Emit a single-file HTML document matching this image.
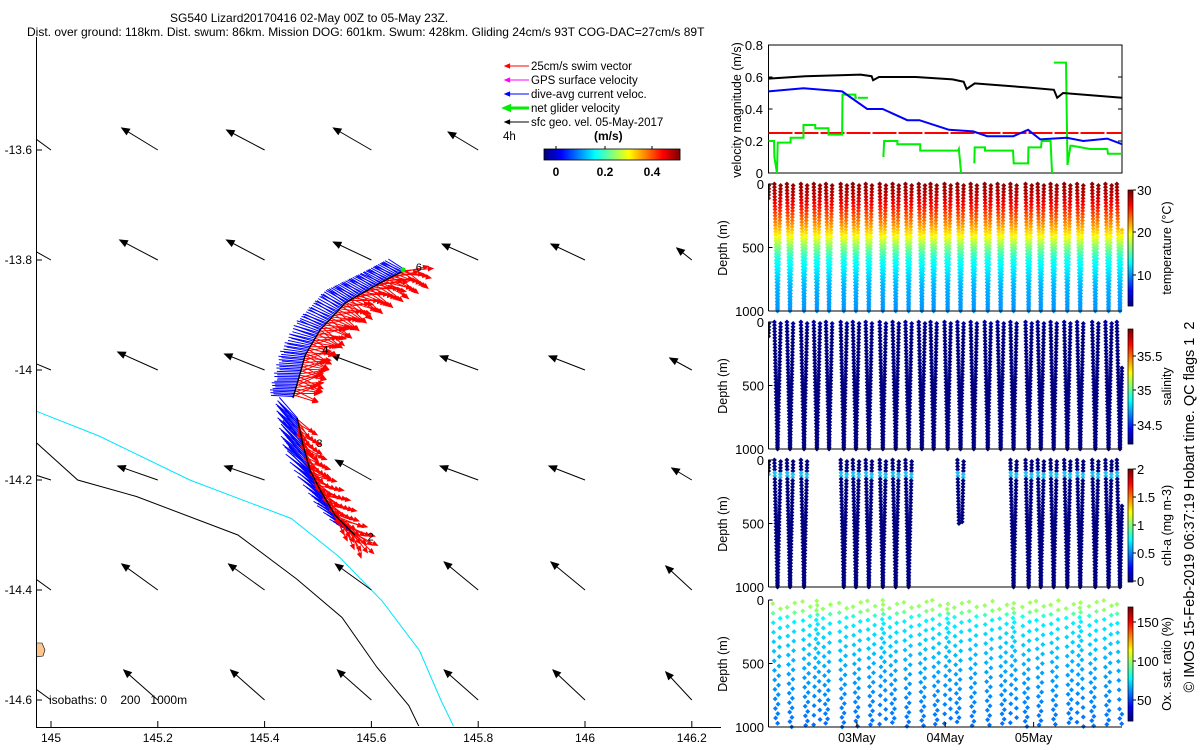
<!DOCTYPE html>
<html><head><meta charset="utf-8"><style>
html,body{margin:0;padding:0;background:#fff;}
svg{display:block;font-family:"Liberation Sans",sans-serif;}
text{white-space:pre;}
</style></head><body>
<svg id="c" width="1200" height="750" viewBox="0 0 1200 750">
<text x="170" y="22" font-size="12">SG540 Lizard20170416 02-May 00Z to 05-May 23Z.</text>
<text x="27" y="36" font-size="12">Dist. over ground: 118km. Dist. swum: 86km. Mission DOG: 601km. Swum: 428km. Gliding 24cm/s 93T COG-DAC=27cm/s 89T</text>
<g id="map"></g>
<g id="right"></g>
<text transform="translate(1194,507) rotate(-90)" font-size="14.5" text-anchor="middle">© IMOS 15-Feb-2019 06:37:19 Hobart time. QC flags 1  2</text>
</svg>
<script>
// ---------- DATA ----------
const lonTicks=[145,145.2,145.4,145.6,145.8,146,146.2];
const latTicks=[-13.6,-13.8,-14,-14.2,-14.4,-14.6];
const geoLon=[145,145.2,145.4,145.6,145.8,146,146.2];
const geoLat=[-13.6,-13.8,-14,-14.2,-14.4,-14.6];
const geoU=[[-0.3,-0.36,-0.38,-0.38,-0.3,-0.3,-0.18],[-0.36,-0.38,-0.38,-0.38,-0.36,-0.34,-0.15],[-0.38,-0.4,-0.4,-0.4,-0.38,-0.36,-0.22],[-0.38,-0.4,-0.4,-0.36,-0.38,-0.36,-0.2],[-0.36,-0.36,-0.36,-0.36,-0.34,-0.34,-0.26],[-0.36,-0.34,-0.34,-0.34,-0.34,-0.32,-0.26]];
const geoV=[[0.22,0.22,0.2,0.22,0.18,0.2,0.2],[0.2,0.2,0.2,0.18,0.16,0.16,0.12],[0.16,0.18,0.16,0.15,0.14,0.14,0.12],[0.12,0.14,0.14,0.2,0.14,0.14,0.12],[0.26,0.26,0.26,0.26,0.28,0.28,0.24],[0.26,0.3,0.3,0.3,0.3,0.3,0.28]];
const trackLon=[145.663,145.616,145.551,145.504,145.476,145.463,145.453,145.461,145.472,145.485,145.504,145.532,145.569];
const trackLat=[-13.818,-13.842,-13.878,-13.927,-13.973,-14.018,-14.051,-14.087,-14.136,-14.182,-14.218,-14.264,-14.300];
const dacU=[-0.3,-0.3,-0.32,-0.36,-0.38,-0.38,-0.36,-0.32,-0.36,-0.38,-0.36,-0.3,-0.28];
const dacV=[0.16,0.16,0.2,0.14,0.04,0.0,0.02,0.3,0.36,0.34,0.3,0.22,0.16];
const swimU=[0.26,0.26,0.25,0.25,0.24,0.24,0.22,0.1,0.14,0.16,0.2,0.2,0.18];
const swimV=[-0.06,-0.06,-0.08,-0.06,-0.02,0.0,0.0,-0.16,-0.16,-0.14,-0.14,-0.16,-0.18];
const breakAfter=6;
const wpLabels=[["6",145.683,-13.82],["4",145.508,-13.97],["3",145.497,-14.14],["2",145.593,-14.31]];
const iso200Lon=[144.97,145.09,145.26,145.45,145.54,145.62,145.69,145.73,145.755];
const iso200Lat=[-14.074,-14.12,-14.2,-14.27,-14.34,-14.42,-14.51,-14.6,-14.65];
const iso1000Lon=[144.97,145.05,145.16,145.35,145.46,145.545,145.61,145.67,145.69];
const iso1000Lat=[-14.13,-14.2,-14.23,-14.3,-14.38,-14.45,-14.54,-14.61,-14.65];
// velocity panel (hours since 02-May 00Z)
const blackH=[0,10,25,28,28.4,30,40,50,53,53.8,56,70,77.5,78.4,80,96];
const blackV=[0.59,0.605,0.615,0.605,0.58,0.6,0.6,0.585,0.57,0.525,0.56,0.535,0.52,0.47,0.5,0.47];
const blueH=[0,9.5,20,26.8,31,37.7,41,49,55.6,59.4,66.5,70.5,73.8,81,85.5,92,96];
const blueV=[0.51,0.53,0.51,0.4,0.4,0.33,0.33,0.27,0.26,0.23,0.23,0.27,0.21,0.22,0.2,0.215,0.18];
const swimSpeed=0.25;
const greenSegs=[
 {h:[0,1.5,1.6,2.3,2.5,6,6,9.5,9.5,12.7,12.7,16.3,16.3,20,20.1,23.6,23.6,24],v:[0.2,0.2,0.1,0,0.19,0.19,0.22,0.22,0.3,0.3,0.28,0.28,0.24,0.24,0.49,0.49,0.47,0.47]},
 {h:[24.3,27],v:[0.47,0.47]},
 {h:[31.2,31.4,35,35,41.2,41.2,51.5,51.7,52.3],v:[0.1,0.2,0.2,0.18,0.18,0.14,0.14,0.15,0]},
 {h:[55.9,56,58.8,58.8,66.4,66.6,70.5,70.6,74,74.2,76.5,76.6,77],v:[0.06,0.16,0.16,0.14,0.14,0.06,0.06,0.16,0.16,0.2,0.2,0.2,0]},
 {h:[77.5,80.8,81,81.2,82,82.5,87.3,87.3,92,92.2,96],v:[0.69,0.69,0.36,0.05,0.17,0.17,0.15,0.15,0.15,0.12,0.12]}
];
const velTicks=[0,0.2,0.4,0.6,0.8];
const diveH=[-1.6,1.6,5.0,8.8,12.3,15.6,19.6,22.9,26.4,30.2,33.7,37.2,40.8,44.0,47.8,51.3,54.9,58.7,62.2,65.7,69.8,73.1,76.6,80.3,83.8,87.9,91.5,94.6];
const chlPresent=[1,1,1,1,0,0,1,1,1,1,1,1,0,0,0,0.5,0,0,0,1,1,1,1,1,1,1,1,1];
const profDepth=[0,100,200,300,400,500,600,800,1000];
const profTemp=[29.5,28,25.5,23,20,16,13,10.5,9.5];
const oxDepth=[0,80,150,300,600,1000];
const oxVal=[100,98,75,70,62,55];
const dayTicks=[24,48,72];
const dayLabels=["03May","04May","05May"];

// ---------- HELPERS ----------
const NS="http://www.w3.org/2000/svg";
function mk(tag,attrs,parent){const e=document.createElementNS(NS,tag);for(const k in attrs)e.setAttribute(k,attrs[k]);parent.appendChild(e);return e;}
function jet(t){t=Math.max(0,Math.min(1,t));const r=Math.max(0,Math.min(1,1.5-Math.abs(4*t-3))),g=Math.max(0,Math.min(1,1.5-Math.abs(4*t-2))),b=Math.max(0,Math.min(1,1.5-Math.abs(4*t-1)));return `rgb(${Math.round(r*255)},${Math.round(g*255)},${Math.round(b*255)})`;}
function interp(xs,ys,x){if(x<=xs[0])return ys[0];for(let i=1;i<xs.length;i++){if(x<=xs[i]){const f=(x-xs[i-1])/(xs[i]-xs[i-1]);return ys[i-1]+f*(ys[i]-ys[i-1]);}}return ys[ys.length-1];}
const map=document.getElementById('map'),right=document.getElementById('right');
const mx=lon=>51+(lon-145)*534, my=lat=>150+(-13.6-lat)*550;

// ---------- MAP ----------
const defs=mk('defs',{},map);
const cp=mk('clipPath',{id:'mapclip'},defs);mk('rect',{x:37,y:37,width:690,height:689},cp);
const mg=mk('g',{'clip-path':'url(#mapclip)'},map);
function poly(xs,ys,col,name){const p=mk('polyline',{points:xs.map((v,i)=>mx(v)+','+my(ys[i])).join(' '),fill:'none',stroke:col,'stroke-width':1},mg);

}
poly(iso200Lon,iso200Lat,'#00e5ff','isobath-200m');
poly(iso1000Lon,iso1000Lat,'#000','isobath-1000m');
const isl=mk('path',{d:'M36,643 L42,643 L45,650 L43,656 L36,657 Z',fill:'#ffc58f',stroke:'#000','stroke-width':0.6},mg);


function arrow(g,x1,y1,x2,y2,col,w,hs){mk('line',{x1,y1,x2,y2,stroke:col,'stroke-width':w},g);const a=Math.atan2(y2-y1,x2-x1);
mk('path',{d:`M${x2},${y2} L${x2-hs*Math.cos(a-0.4)},${y2-hs*Math.sin(a-0.4)} L${x2-hs*Math.cos(a+0.4)},${y2-hs*Math.sin(a+0.4)} Z`,fill:col,stroke:col,'stroke-width':w},g);}
for(let j=0;j<geoLat.length;j++)for(let i=0;i<geoLon.length;i++){
 const g=mk('g',{},mg);
 
 
 const x=mx(geoLon[i]),y=my(geoLat[j]);
 arrow(g,x,y,x+geoU[j][i]*100,y-geoV[j][i]*100,'#000',1,8);}
const vb=mk('g',{},mg);
const vr=mk('g',{},mg);
for(let k=0;k<trackLon.length-1;k++){
 if(k===breakAfter)continue;
 const x0=mx(trackLon[k]),y0=my(trackLat[k]),x1=mx(trackLon[k+1]),y1=my(trackLat[k+1]);
 const n=Math.max(6,Math.round(Math.hypot(x1-x0,y1-y0)/1.6));
 for(let s=0;s<n;s++){const f=s/n,x=x0+f*(x1-x0),y=y0+f*(y1-y0);
  const du=dacU[k]+f*(dacU[k+1]-dacU[k]),dv=dacV[k]+f*(dacV[k+1]-dacV[k]);
  const wig=((s*7)%5-2)*0.05;
  mk('line',{x1:x,y1:y,x2:x+du*62*(1+wig),y2:y-dv*62*(1-wig),stroke:'#0000ff','stroke-width':1},vb);
  const su=swimU[k]+f*(swimU[k+1]-swimU[k]),sv=swimV[k]+f*(swimV[k+1]-swimV[k]);
  const rot=((s*5)%7-3)*0.15;const ca=Math.cos(rot),sa=Math.sin(rot);
  const rx=su*ca-sv*sa,ry=su*sa+sv*ca;
  arrow(vr,x,y,x+rx*110,y-ry*110,'#ff0000',1,5);}}
const tr=mk('polyline',{points:trackLon.slice(0,breakAfter+1).map((v,i)=>mx(v)+','+my(trackLat[i])).join(' '),fill:'none',stroke:'#000','stroke-width':1.3},mg);

const tr2=mk('polyline',{points:trackLon.slice(breakAfter+1).map((v,i)=>mx(v)+','+my(trackLat[i+breakAfter+1])).join(' '),fill:'none',stroke:'#000','stroke-width':1.3},mg);

mk('circle',{cx:mx(trackLon[0])-2,cy:my(trackLat[0]),r:2.5,fill:'#00ee00'},mg);
for(const w of wpLabels){const t=mk('text',{x:mx(w[1]),y:my(w[2]),'font-size':11},mg);t.textContent=w[0];
 }
const ax=mk('g',{},map);
mk('line',{x1:36.5,y1:37,x2:36.5,y2:727,stroke:'#000','stroke-width':1},ax);
mk('line',{x1:36,y1:727.5,x2:721,y2:727.5,stroke:'#000','stroke-width':1},ax);
for(const l of lonTicks){const x=mx(l);mk('line',{x1:x,y1:727,x2:x,y2:721,stroke:'#000'},ax);
 const t=mk('text',{x:x,y:742,'font-size':12,'text-anchor':'middle'},ax);t.textContent=String(l);
 }
for(const l of latTicks){const y=my(l);mk('line',{x1:36,y1:y,x2:42,y2:y,stroke:'#000'},ax);
 const t=mk('text',{x:32,y:y+4,'font-size':12,'text-anchor':'end'},ax);t.textContent=String(l);
 }
const ib=mk('text',{x:49,y:704,'font-size':12},map);ib.textContent='isobaths: 0    200   1000m';

const lg=mk('g',{},map);
mk('rect',{x:500,y:56,width:195,height:122,fill:'#fff'},lg);
const legItems=[['25cm/s swim vector','#ff0000',1],['GPS surface velocity','#ff00ff',1],['dive-avg current veloc.','#0000ff',1],['net glider velocity','#00ee00',3],['sfc geo. vel. 05-May-2017','#000',1]];
legItems.forEach((it,i)=>{const y=66+i*14;const g=mk('g',{},lg);
 
 arrow(g,529,y,505,y,it[1],it[2],5);
 const t=mk('text',{x:531,y:y+4,'font-size':11.5},g);t.textContent=it[0];});
const t4=mk('text',{x:503,y:140,'font-size':11.5},lg);t4.textContent='4h';
const ms=mk('text',{x:594,y:140,'font-size':12,'font-weight':'bold'},lg);ms.textContent='(m/s)';
for(let i=0;i<136;i++)mk('rect',{x:544+i,y:149,width:1.2,height:11,fill:jet(i/135)},lg);
mk('rect',{x:544,y:149,width:136,height:11,fill:'none',stroke:'#000','stroke-width':0.8},lg);
[['0',556],['0.2',605],['0.4',652]].forEach(a=>{mk('line',{x1:a[1],y1:146,x2:a[1],y2:149,stroke:'#000'},lg);
 const t=mk('text',{x:a[1],y:176,'font-size':12,'font-weight':'bold','text-anchor':'middle'},lg);t.textContent=a[0];});

// ---------- RIGHT PANELS ----------
const X0=768.5,X1=1122;const px=h=>X0+h*(X1-X0)/96;
const vp=mk('g',{},right);
const vy=v=>173-v*160;
mk('rect',{x:X0,y:45,width:X1-X0,height:128,fill:'none',stroke:'#000'},vp);
for(const v of velTicks){mk('line',{x1:X0,y1:vy(v),x2:X0+4,y2:vy(v),stroke:'#000'},vp);mk('line',{x1:X1,y1:vy(v),x2:X1-4,y2:vy(v),stroke:'#000'},vp);
 const t=mk('text',{x:763,y:vy(v)+5,'font-size':13,'text-anchor':'end'},vp);t.textContent=v===0?'0':v.toFixed(1);}
const vl=mk('text',{transform:'translate(741,110) rotate(-90)','font-size':12.5,'text-anchor':'middle'},vp);vl.textContent='velocity magnitude (m/s)';

const rl=mk('line',{x1:X0,y1:vy(swimSpeed),x2:X1,y2:vy(swimSpeed),stroke:'#ff0000','stroke-width':2,'stroke-dasharray':'24,2'},vp);

greenSegs.forEach(s=>{const p=mk('polyline',{points:s.h.map((h,i)=>px(h)+','+vy(s.v[i])).join(' '),fill:'none',stroke:'#00ee00','stroke-width':2},vp);
 });
const bl=mk('polyline',{points:blueH.map((h,i)=>px(h)+','+vy(blueV[i])).join(' '),fill:'none',stroke:'#0000ff','stroke-width':2},vp);

const kl=mk('polyline',{points:blackH.map((h,i)=>px(h)+','+vy(blackV[i])).join(' '),fill:'none',stroke:'#000','stroke-width':2},vp);


const panels=[
 {top:184,name:'temperature',label:'temperature (°C)',cb:[190,306],ticks:[[30,190],[20,232],[10,275]]},
 {top:322,name:'salinity',label:'salinity',cb:[329,444],ticks:[[35.5,356],[35,390],[34.5,425]]},
 {top:460,name:'chl-a',label:'chl-a (mg m-3)',cb:[469,582],ticks:[[2,469],['1.5',497],[1,525],['0.5',553],[0,581]]},
 {top:600,name:'oxygen',label:'Ox. sat. ratio (%)',cb:[607,721],ticks:[[150,622],[100,661],[50,700]]}];
const dclip=mk('clipPath',{id:'dclip'},defs);mk('rect',{x:X0,y:180,width:X1-X0+4,height:550},dclip);
const half=0.85;
panels.forEach((P,pi)=>{
 const g=mk('g',{},right);
 
 
 const dy=z=>P.top+z*0.127;
 const pts=mk('g',{'clip-path':'url(#dclip)'},g);
 diveH.forEach((hd,di)=>{
  if(pi===2&&!chlPresent[di])return;
  const step=pi===3?75:25;
  for(let leg=0;leg<2;leg++){
   const maxZ=(pi===2&&chlPresent[di]<1)?500:1000;
   for(let z=(pi===3?((di*29+leg*41)%75):leg*12);z<=maxZ;z+=step){
    const wob=pi===3?(((di*7+z)%5)-2)*0.9:0;
    const h=(leg===0?hd+z/1000*half:hd+2*half-z/1000*half)+wob*0.5;
    if(h<0||h>96)continue;
    let col;
    if(pi===0)col=jet((interp(profDepth,profTemp,z)-2)/28);
    else if(pi===1)col=z<40?'#0000a0':'#000080';
    else if(pi===2)col=(z>=100&&z<140)?'#20c0f0':'#000080';
    else col=jet((interp(oxDepth,oxVal,z)-20)/150);
    const x=px(h),y=dy(z);
    mk('path',{d:`M${x-2.5},${y} L${x},${y-2.5} L${x+2.5},${y} L${x},${y+2.5} Z`,fill:col},pts);}}});
 mk('line',{x1:X0,y1:P.top,x2:X0,y2:P.top+127,stroke:'#000'},g);
 mk('line',{x1:X0,y1:P.top+127,x2:X1,y2:P.top+127,stroke:'#000'},g);
 [[0,'0'],[500,'500'],[1000,'1000']].forEach(a=>{mk('line',{x1:X0,y1:dy(a[0]),x2:X0+4,y2:dy(a[0]),stroke:'#000'},g);
  const t=mk('text',{x:764,y:dy(a[0])+5,'font-size':13,'text-anchor':'end'},g);t.textContent=a[1];});
 const yl=mk('text',{transform:`translate(727,${P.top+64}) rotate(-90)`,'font-size':12.5,'text-anchor':'middle'},g);yl.textContent='Depth (m)';
 
 const cb=mk('g',{},g);
 const hgt=P.cb[1]-P.cb[0];
 for(let i=0;i<hgt;i++)mk('rect',{x:1128,y:P.cb[1]-i-1,width:5,height:1.3,fill:jet(i/(hgt-1))},cb);
 mk('rect',{x:1128,y:P.cb[0],width:5,height:hgt,fill:'none',stroke:'#000','stroke-width':0.7},cb);
 P.ticks.forEach(a=>{mk('line',{x1:1133,y1:a[1],x2:1136,y2:a[1],stroke:'#000'},cb);
  const t=mk('text',{x:1137,y:a[1]+5,'font-size':13},cb);t.textContent=String(a[0]);});
 const cl=mk('text',{transform:`translate(1171,${(P.cb[0]+P.cb[1])/2}) rotate(-90)`,'font-size':12.5,'text-anchor':'middle'},cb);cl.textContent=P.label;
});
dayTicks.forEach((h,i)=>{const x=px(h);mk('line',{x1:x,y1:727,x2:x,y2:722,stroke:'#000'},right);
 const t=mk('text',{x:x,y:742,'font-size':12.5,'text-anchor':'middle'},right);t.textContent=dayLabels[i];
 });
</script>
</body></html>
